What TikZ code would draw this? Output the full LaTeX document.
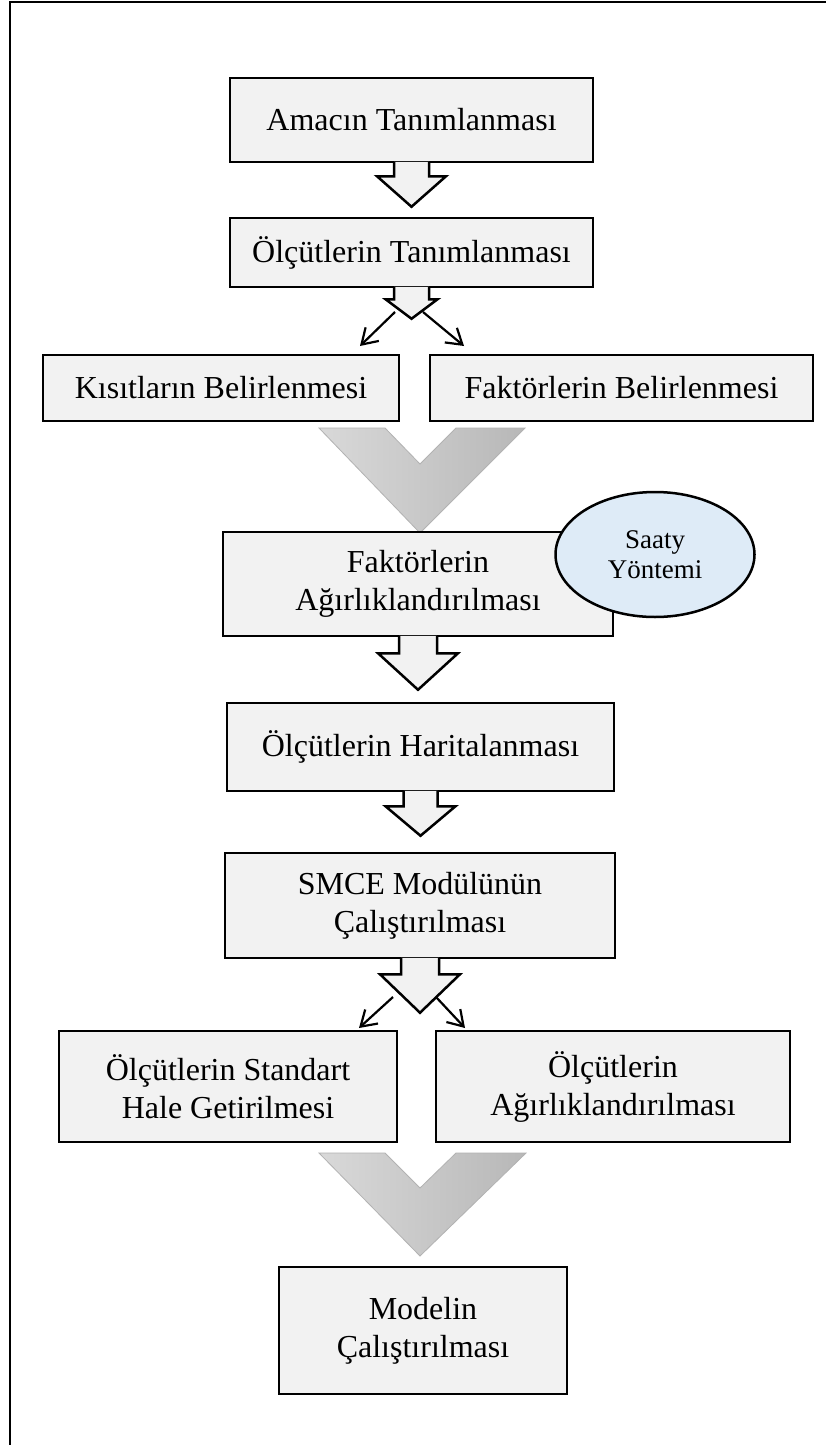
\documentclass[tikz,border=0pt]{standalone}
\usepackage{fontspec}
\setmainfont{Liberation Serif}
\usetikzlibrary{arrows.meta,calc,shapes.geometric}
\definecolor{boxfill}{HTML}{F2F2F2}
\definecolor{ellfill}{HTML}{DEEBF7}
\tikzset{
  box/.style={draw=black,line width=2.5pt,fill=boxfill,inner sep=0pt,align=center,
              font=\fontsize{32}{38}\selectfont},
  ellbox/.style={ellipse,draw=black,line width=2.5pt,fill=ellfill,inner sep=0pt,align=center,
              font=\fontsize{27}{30}\selectfont},
  barrow/.style={draw=black,line width=2.5pt,fill=boxfill,line join=miter},
  splitarr/.style={line width=2.2pt,-{Straight Barb[length=15pt,width=19pt]}},
  chev/.style={draw=black!30,line width=0.8pt,left color=black!15,right color=black!28},
  frameline/.style={line width=2.2pt,draw=black}
}
\newcommand\blkarrow[6]{%
  \draw[barrow] let \p1=(#1.south), \p2=(#2.north) in
    (\x1-#5pt,\y1+1.5pt) -- (\x1-#5pt,\y1-#3pt) -- (\x1-#6pt,\y1-#3pt)
    -- (\x1,\y2+#4pt) -- (\x1+#6pt,\y1-#3pt) -- (\x1+#5pt,\y1-#3pt)
    -- (\x1+#5pt,\y1+1.5pt);}
\begin{document}
\begin{tikzpicture}[x=1pt,y=-1pt]
\useasboundingbox (0,0) rectangle (826,1445);
\fill[white] (0,0) rectangle (826,1445);
% page frame (top and left)
\draw[frameline] (10,1445) -- (10,2) -- (826,2);

% grey chevrons
\draw[chev] (319,428) -- (385,428) -- (420,464) -- (456,428) -- (525,428) -- (420,533) -- cycle;
\draw[chev] (319,1153) -- (385,1153) -- (420,1188) -- (456,1153) -- (526,1153) -- (420,1256) -- cycle;

% boxes
\node[box,minimum width=363pt,minimum height=84pt] (b1) at (411.5,120) {Amacın Tanımlanması};
\node[box,minimum width=363pt,minimum height=69pt] (b2) at (411.5,252.5) {Ölçütlerin Tanımlanması};
\node[box,minimum width=356pt,minimum height=66pt] (b3) at (221,388) {Kısıtların Belirlenmesi};
\node[box,minimum width=383pt,minimum height=66pt] (b4) at (621.5,388) {Faktörlerin Belirlenmesi};
\node[box,minimum width=390pt,minimum height=104pt] (b5) at (418,584) {Faktörlerin\\Ağırlıklandırılması};
\node[box,minimum width=387pt,minimum height=88pt] (b6) at (420.5,747) {Ölçütlerin Haritalanması};
\node[box,minimum width=390pt,minimum height=105pt] (b7) at (420,905.5) {SMCE Modülünün\\Çalıştırılması};
\node[box,minimum width=338pt,minimum height=111pt] (b8) at (228,1086.5) {Ölçütlerin Standart\\Hale Getirilmesi};
\node[box,minimum width=354pt,minimum height=111pt] (b9) at (613,1086.5) {Ölçütlerin\\Ağırlıklandırılması};
\node[box,minimum width=288pt,minimum height=127pt] (b10) at (423,1330.5) {Modelin\\Çalıştırılması};

% block arrows
\blkarrow{b1}{b2}{13}{10}{17.5}{34.5}
\blkarrow{b2}{b3}{11}{35}{17.5}{26}
\blkarrow{b5}{b6}{16}{12}{19}{40}
\blkarrow{b6}{b7}{14}{16}{17}{35}
\blkarrow{b7}{b8}{15}{17}{19}{40}

% split arrows
\coordinate (s1l) at (395,312);
\coordinate (e1l) at (360,346);
\coordinate (s1r) at (423,312);
\coordinate (e1r) at (464,346);
\coordinate (s2l) at (393,997);
\coordinate (e2l) at (359,1028);
\coordinate (s2r) at (436,997);
\coordinate (e2r) at (465,1028);
\draw[splitarr] (s1l) -- (e1l);
\draw[splitarr] (s1r) -- (e1r);
\draw[splitarr] (s2l) -- (e2l);
\draw[splitarr] (s2r) -- (e2r);

% Saaty ellipse
\node[ellbox,minimum width=199pt,minimum height=125pt] (saaty) at (655,554.5) {Saaty\\Yöntemi};
\end{tikzpicture}
\end{document}
